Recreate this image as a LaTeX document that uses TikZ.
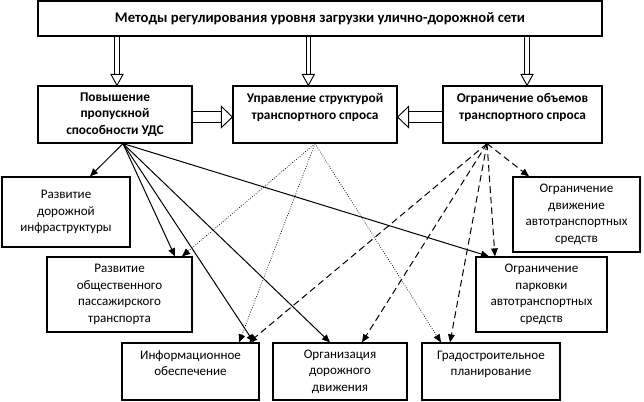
\documentclass[tikz,border=0pt]{standalone}
\usepackage{fontspec}
\setmainfont{Carlito}
\usetikzlibrary{arrows.meta,decorations.markings}

\tikzset{every picture/.style={line width=0.75pt}}
\tikzset{
	boxsize/.style 2 args={minimum width=#1*0.75pt, minimum height=#2*0.75pt},
	box/.style={draw, line width=0.9pt, inner sep=0pt, align=center, font=\fontsize{9.8}{12.4}\selectfont},
	headbox/.style={box, font=\fontsize{10}{12.2}\selectfont\bfseries},
	solidlink/.style={-{Triangle[length=6pt,width=5pt]}},
	dotlink/.style={-{Triangle[length=6pt,width=5pt]}, line width=0.5pt, dash pattern={on 0.6pt off 1.2pt}},
	dashlink/.style={-{Triangle[length=6pt,width=5pt]}, dash pattern={on 5pt off 3pt}},
	hollow/.style n args={3}{draw=white, line width=#2, shorten >=7.8pt,
		preaction={draw=black, line width=#1, shorten >=7.8pt},
		postaction={decorate, decoration={markings, mark=at position 1 with {
			\draw[black, fill=white, line width=0.7pt] (-8.25pt,-#3) -- (0pt,0pt) -- (-8.25pt,#3) -- cycle;}}}},
	hollowv/.style={hollow={3.9pt}{2.5pt}{4.5pt}},
	hollowh/.style={hollow={8.4pt}{7pt}{7.9pt}}
}

\begin{document}
\begin{tikzpicture}[x=0.75pt,y=0.75pt,yscale=-1,xscale=1]
	\useasboundingbox (0,0) rectangle (644,402);

	%Shape: Rectangle [top]
	\node[headbox, boxsize={564}{35}, font=\fontsize{11}{13}\selectfont\bfseries] (top) at (320,18.5) {Методы регулирования уровня загрузки улично-дорожной сети};
	%Shape: Rectangle [methods]
	\node[headbox, boxsize={154}{57}] (pov) at (115,114.5) {Повышение\\пропускной\\способности УДС};
	\node[headbox, boxsize={164}{57}] (upr) at (315,114.5) {Управление структурой\\транспортного спроса\\\mbox{}};
	\node[headbox, boxsize={159}{57}] (ogr) at (522.5,114.5) {Ограничение объемов\\транспортного спроса\\\mbox{}};

	%Shape: Rectangle [measures]
	\node[box, boxsize={128}{70}] (road) at (66,212) {Развитие\\дорожной\\инфраструктуры};
	\node[box, boxsize={127}{75}] (move) at (576.5,214.5) {Ограничение\\движение\\автотранспортных\\средств};
	\node[box, boxsize={145}{75}] (pass) at (119.5,294.5) {Развитие\\общественного\\пассажирского\\транспорта};
	\node[box, boxsize={131}{75}] (park) at (541.5,294.5) {Ограничение\\парковки\\автотранспортных\\средств};
	\node[box, boxsize={137}{57}] (info) at (190.5,371.5) {Информационное\\обеспечение\\\mbox{}};
	\node[box, boxsize={134}{57}] (org) at (340,371.5) {Организация\\дорожного\\движения};
	\node[box, boxsize={138}{57}] (grad) at (491,371.5) {Градостроительное\\планирование\\\mbox{}};

	%Double Arrows
	\draw[hollowv] ([xshift=1.5pt]top.south -| pov.north) -- ([xshift=1.5pt]pov.north);
	\draw[hollowv] ([xshift=-5pt]top.south -| upr.north) -- ([xshift=-5pt]upr.north);
	\draw[hollowv] ([xshift=3.4pt]top.south -| ogr.north) -- ([xshift=3.4pt]ogr.north);
	\draw[hollowh] ([yshift=1.9pt]pov.east) -- ([yshift=1.9pt]upr.west);
	\draw[hollowh] ([yshift=1.9pt]ogr.west) -- ([yshift=1.9pt]upr.east);

	\coordinate (povout) at ([xshift=6pt]pov.south);
	\coordinate (ogrout) at ([xshift=-26.6pt]ogr.south);

	%Straight Lines [capacity]
	\draw[solidlink] (povout) -- ([xshift=18pt]road.north);
	\draw[solidlink] (povout) -- ([xshift=41.6pt]pass.north);
	\draw[solidlink] (povout) -- ([xshift=47.6pt]info.north);
	\draw[solidlink] (povout) -- ([xshift=-7.5pt]org.north);
	\draw[solidlink] (povout) -- ([xshift=-39.4pt]park.north);

	%Dotted Lines [structure]
	\draw[dotlink] (upr.south) -- ([xshift=46.9pt]pass.north);
	\draw[dotlink] (upr.south) -- ([xshift=36.4pt]info.north);
	\draw[dotlink] (upr.south) -- ([xshift=-37.5pt]grad.north);

	%Dashed Lines [volumes]
	\draw[dashlink] (ogrout) -- ([xshift=-35.6pt]move.north);
	\draw[dashlink] (ogrout) -- ([xshift=-34.9pt]park.north);
	\draw[dashlink] (ogrout) -- ([xshift=-30.75pt]grad.north);
	\draw[dashlink] (ogrout) -- ([xshift=16.5pt]org.north);
	\draw[dashlink] (ogrout) -- ([xshift=43.9pt]info.north);

\end{tikzpicture}
\end{document}
